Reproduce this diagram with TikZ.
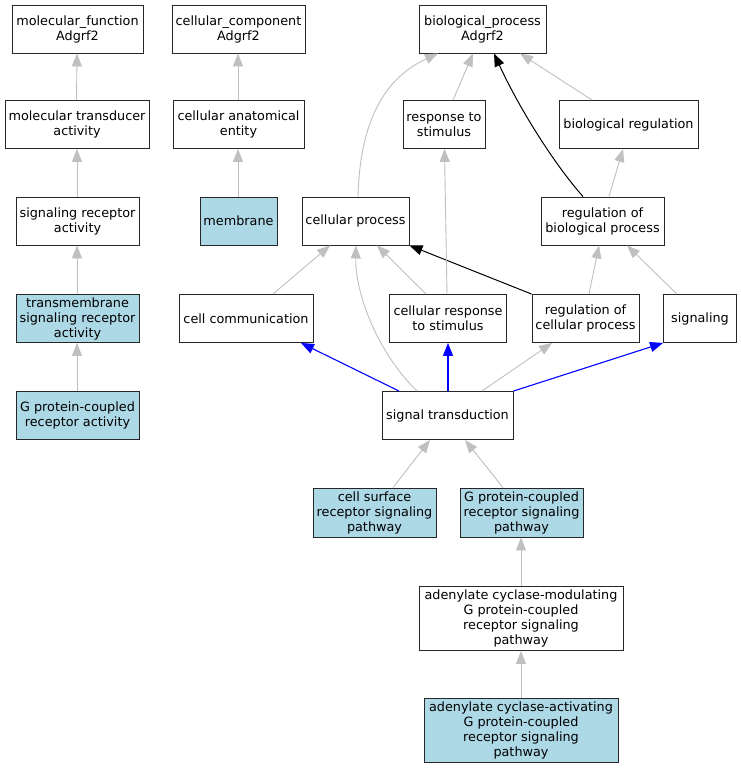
\documentclass[tikz,border=0pt]{standalone}
\usepackage{fontspec}
\setmainfont{DejaVu Sans}
\usetikzlibrary{arrows.meta}
\definecolor{edgegray}{HTML}{C0C0C0}
\definecolor{hitblue}{HTML}{ADD8E6}
\definecolor{regblue}{HTML}{0000FF}
\tikzset{
  gobox/.style={draw=black!85, line width=0.9pt, fill=white, minimum height=48pt,
    inner sep=0pt, align=center, font=\fontsize{12.8}{15}\selectfont},
  hitbox/.style={gobox, fill=hitblue},
  isa/.style={draw=edgegray, line width=0.9pt, -{Triangle[length=13pt,width=10pt]}},
  negreg/.style={draw=black, line width=1pt, -{Triangle[length=13pt,width=10pt]}},
  partof/.style={draw=regblue, line width=1.1pt, -{Triangle[length=13pt,width=10pt]}}
}
\begin{document}
\begin{tikzpicture}[x=1pt,y=-1pt]
\useasboundingbox[fill=white] (0,0) rectangle (741,768);
% row 1
\node[gobox, minimum width=131pt] (mf) at (77.5,29) {molecular\_function\\Adgrf2};
\node[gobox, minimum width=133pt] (cc) at (238.5,29) {cellular\_component\\Adgrf2};
\node[gobox, minimum width=127pt] (bp) at (482.5,29) {biological\_process\\Adgrf2};
% row 2
\node[gobox, minimum width=144pt] (mta) at (77,124.5) {molecular transducer\\activity};
\node[gobox, minimum width=131pt] (cae) at (238.5,124.5) {cellular anatomical\\entity};
\node[gobox, minimum width=82pt] (rts) at (444,124.5) {response to\\stimulus};
\node[gobox, minimum width=139pt] (breg) at (628.5,124.5) {biological regulation};
% row 3
\node[gobox, minimum width=123pt] (sra) at (77.5,221) {signaling receptor\\activity};
\node[hitbox, minimum width=77pt] (mem) at (238.5,221) {membrane};
\node[gobox, minimum width=107pt] (cp) at (355.5,221) {cellular process};
\node[gobox, minimum width=123pt] (rbp) at (602.5,221) {regulation of\\biological process};
% row 4
\node[hitbox, minimum width=123pt] (tsra) at (77.5,318.5) {transmembrane\\signaling receptor\\activity};
\node[gobox, minimum width=134pt] (ccomm) at (246,318.5) {cell communication};
\node[gobox, minimum width=117pt] (crs) at (448,318.5) {cellular response\\to stimulus};
\node[gobox, minimum width=107pt] (rcp) at (585.5,318.5) {regulation of\\cellular process};
\node[gobox, minimum width=73pt] (sig) at (700,318.5) {signaling};
% row 5
\node[hitbox, minimum width=123pt] (gpcra) at (77.5,415.5) {G protein-coupled\\receptor activity};
\node[gobox, minimum width=131pt] (st) at (447.5,415.5) {signal transduction};
% row 6
\node[hitbox, minimum width=123pt, minimum height=49pt] (csrsp) at (374.5,512.5) {cell surface\\receptor signaling\\pathway};
\node[hitbox, minimum width=123pt, minimum height=49pt] (gpcrsp) at (521.5,512.5) {G protein-coupled\\receptor signaling\\pathway};
% row 7, 8
\node[gobox, minimum width=204pt, minimum height=64pt] (acm) at (521,618.5) {adenylate cyclase-modulating\\G protein-coupled\\receptor signaling\\pathway};
\node[hitbox, minimum width=194pt, minimum height=64pt] (aca) at (521,730.5) {adenylate cyclase-activating\\G protein-coupled\\receptor signaling\\pathway};

% edges: left columns
\draw[isa] ([xshift=-0.5pt]mta.north) -- ([xshift=-0.5pt]mf.south);
\draw[isa] ([xshift=-0.5pt]sra.north) -- (mta.south);
\draw[isa] ([xshift=-0.5pt]tsra.north) -- ([xshift=-0.5pt]sra.south);
\draw[isa] ([xshift=-0.5pt]gpcra.north) -- ([xshift=-0.5pt]tsra.south);
\draw[isa] ([xshift=-0.5pt]cae.north) -- ([xshift=-0.5pt]cc.south);
\draw[isa] ([xshift=-0.5pt]mem.north) -- ([xshift=-0.5pt]cae.south);
% to biological_process
\draw[isa] ([xshift=2.5pt]cp.north) .. controls (360,120) and (385,78) .. ([xshift=-44.5pt]bp.south);
\draw[isa] ([xshift=9pt]rts.north) -- ([xshift=-9.5pt]bp.south);
\draw[negreg] ([xshift=-19.5pt]rbp.north) .. controls (555,165) and (520,110) .. ([xshift=11.5pt]bp.south);
\draw[isa] ([xshift=-36.5pt]breg.north) -- ([xshift=37.5pt]bp.south);
\draw[isa] ([xshift=6.5pt]rbp.north) -- ([xshift=-5.5pt]breg.south);
% to cellular process
\draw[isa] ([xshift=27pt]ccomm.north) -- ([xshift=-25.5pt]cp.south);
\draw[isa] ([xshift=-30.5pt]st.north) .. controls (375,350) and (355,290) .. ([xshift=0.5pt]cp.south);
\draw[isa] ([xshift=-22pt]crs.north) -- ([xshift=21.5pt]cp.south);
\draw[negreg] (rcp.north west) -- (cp.south east);
\draw[isa] ([xshift=-1pt]crs.north) -- ([xshift=0.5pt]rts.south);
% to regulation of biological process
\draw[isa] ([xshift=3.5pt]rcp.north) -- ([xshift=-3.5pt]rbp.south);
\draw[isa] ([xshift=-23pt]sig.north) -- ([xshift=24.5pt]rbp.south);
% from signal transduction
\draw[partof] ([xshift=-48.5pt]st.north) -- ([xshift=55pt]ccomm.south);
\draw[partof] ([xshift=0.5pt]st.north) -- (crs.south);
\draw[isa] ([xshift=34.5pt]st.north) -- ([xshift=-33.5pt]rcp.south);
\draw[partof] (st.north east) -- (sig.south west);
% to signal transduction
\draw[isa] ([xshift=18.5pt]csrsp.north) -- ([xshift=-17.5pt]st.south);
\draw[isa] ([xshift=-18.5pt]gpcrsp.north) -- ([xshift=17.5pt]st.south);
\draw[isa] (acm.north) -- ([xshift=-0.5pt]gpcrsp.south);
\draw[isa] (aca.north) -- (acm.south);
\end{tikzpicture}
\end{document}
